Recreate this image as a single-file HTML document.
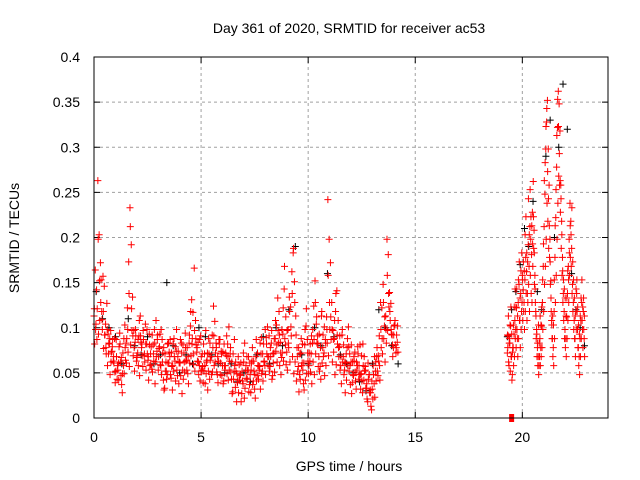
<!DOCTYPE html>
<html><head><meta charset="utf-8"><style>
html,body{margin:0;padding:0;background:#fff;}
svg{display:block;font-family:"Liberation Sans",sans-serif;}
</style></head><body>
<svg id="chart" width="640" height="480" viewBox="0 0 640 480">
<text x="349" y="33" font-size="14" text-anchor="middle">Day 361 of 2020, SRMTID for receiver ac53</text>
<text x="349" y="471" font-size="14" text-anchor="middle">GPS time / hours</text>
<text transform="translate(19,238) rotate(-90)" font-size="14" text-anchor="middle">SRMTID / TECUs</text>
<g id="grid"></g>
<g id="ticks"></g>
<g id="black"></g>
<g id="red"></g>
<rect x="94" y="57" width="514" height="361" fill="none" stroke="#000" stroke-width="1"/>
</svg>
<script>
const xTicks=[0,5,10,15,20];
const yTicks=[0,0.05,0.1,0.15,0.2,0.25,0.3,0.35,0.4];
const yTickLabels=["0","0.05","0.1","0.15","0.2","0.25","0.3","0.35","0.4"];
const segAStart=0, segAStep=0.06;
const redA1=[.113,.164,.142,.263,.203,.172,.118,.157,.146,.104,.127,.093,.082,.097,.074,.063,.088,.052,.043,.061,.094,.047,.028,.058,.103,.083,.122,.173,.233,.192,.134,.097,.084,.063,.072,.091,.113,.078,.057,.069,.104,.082,.064,.093,.071,.054,.081,.098,.062,.074,.053,.079,.058,.087,.042,.033,.062,.048,.083,.068,.044,.031,.052,.063,.074,.047,.038,.061,.083,.053,.072,.094,.064,.049,.083,.102,.131,.117,.166,.108,.073,.084,.058,.091,.053,.039,.071,.097,.064,.052,.043,.068,.092,.124,.107,.083,.048,.063,.087,.074,.058,.041,.053,.069,.082,.101,.071,.043,.029,.051,.034,.018,.042,.059,.048,.027,.038,.022,.052,.068,.053,.037,.028,.063,.041,.032,.068,.047,.043,.057,.071,.052,.082,.058,.089,.101,.068,.057,.083,.047,.072,.088,.103,.133,.118,.084,.067,.093,.143,.081,.073,.098,.134,.123,.162,.183,.151,.113,.078,.057,.048,.072,.061,.038,.081,.102,.087,.049,.063,.071,.083,.124,.152,.104,.091,.068,.057,.113,.078,.072,.087,.112,.242,.198,.172,.128,.097,.088,.118,.141,.108,.079,.058,.092,.068,.053,.061,.078,.101,.071,.062,.039,.047,.073,.032,.058,.043,.081,.049,.028,.042,.057,.033,.018,.048,.031,.009,.021,.038,.052,.068,.047,.091,.128,.122,.148,.102,.113,.198,.181,.139,.127,.092,.078,.103,.072,.084];
const redA2=[.082,.104,.121,.093,.108,.153,.098,.077,.092,.071,.058,.083,.048,.073,.087,.061,.039,.068,.053,.079,.062,.037,.072,.049,.064,.088,.073,.057,.081,.097,.069,.052,.091,.067,.058,.047,.084,.069,.087,.062,.053,.071,.042,.058,.079,.051,.063,.038,.068,.092,.077,.059,.048,.072,.031,.052,.043,.061,.073,.048,.057,.082,.068,.041,.053,.074,.062,.047,.027,.043,.051,.063,.078,.038,.061,.069,.088,.059,.052,.081,.063,.048,.041,.068,.057,.052,.038,.062,.031,.071,.064,.048,.078,.058,.072,.051,.039,.082,.061,.047,.038,.058,.072,.049,.042,.063,.051,.027,.043,.058,.052,.039,.028,.047,.018,.041,.062,.033,.044,.053,.029,.048,.061,.037,.052,.022,.041,.058,.053,.032,.049,.041,.063,.048,.071,.058,.052,.068,.043,.061,.051,.074,.062,.083,.058,.048,.072,.063,.088,.059,.053,.078,.062,.091,.068,.049,.062,.041,.052,.029,.043,.058,.053,.031,.042,.049,.063,.072,.051,.038,.062,.048,.071,.083,.057,.052,.043,.061,.068,.047,.058,.083,.069,.098,.087,.062,.073,.048,.059,.082,.068,.053,.038,.062,.048,.028,.042,.058,.052,.037,.027,.048,.063,.041,.053,.071,.048,.032,.041,.058,.052,.033,.021,.043,.028,.013,.032,.048,.023,.041,.052,.063,.042,.078,.071,.088,.062,.083,.097,.123,.108,.093,.068,.102,.081,.092,.073];
const redA3=[.121,.098,.087,.198,.152,.128,.109,.118,.092,.078,.098,.071,.088,.062,.079,.068,.051,.087,.058,.042,.082,.067,.049,.088,.078,.061,.098,.138,.212,.121,.091,.078,.098,.069,.087,.108,.091,.082,.097,.071,.082,.098,.068,.081,.059,.092,.071,.083,.108,.087,.068,.093,.098,.062,.078,.071,.052,.082,.061,.087,.072,.058,.088,.079,.098,.068,.061,.087,.072,.081,.062,.078,.053,.068,.092,.118,.082,.071,.097,.088,.078,.062,.087,.052,.071,.082,.058,.049,.072,.088,.083,.068,.051,.091,.062,.078,.068,.087,.048,.071,.073,.082,.058,.091,.068,.053,.078,.062,.071,.087,.062,.049,.068,.042,.061,.052,.072,.083,.058,.043,.068,.061,.053,.078,.063,.048,.087,.072,.058,.083,.089,.071,.062,.098,.082,.068,.091,.078,.097,.071,.088,.108,.081,.097,.092,.072,.098,.122,.168,.112,.097,.083,.118,.101,.138,.188,.128,.092,.068,.078,.071,.088,.082,.061,.098,.121,.072,.058,.082,.091,.098,.087,.128,.112,.082,.093,.078,.118,.092,.101,.083,.098,.158,.128,.112,.098,.087,.108,.138,.092,.078,.091,.068,.098,.081,.062,.071,.088,.079,.058,.081,.062,.068,.051,.062,.079,.058,.048,.069,.082,.068,.053,.038,.061,.048,.028,.041,.058,.068,.062,.078,.069,.058,.098,.088,.128,.112,.098,.158,.138,.118,.098,.081,.092,.108,.078,.102];
const segBStart=19.3, segBStep=0.039;
const redB1=[.072,.091,.058,.083,.102,.068,.048,.078,.093,.108,.098,.122,.088,.128,.148,.108,.138,.118,.158,.142,.128,.153,.178,.162,.138,.192,.168,.212,.198,.181,.228,.262,.208,.158,.118,.098,.078,.068,.058,.088,.078,.102,.128,.168,.212,.248,.298,.328,.352,.298,.258,.198,.152,.108,.088,.078,.118,.178,.222,.278,.322,.362,.348,.318,.258,.218,.178,.138,.118,.098,.088,.112,.138,.168,.198,.238,.218,.188,.148,.128,.108,.088,.118,.138,.098,.078,.068,.088,.108,.128,.098,.118,.088];
const redB2=[.078,.062,.088,.052,.068,.042,.078,.058,.068,.088,.078,.098,.068,.088,.108,.078,.098,.128,.108,.118,.098,.118,.138,.108,.128,.148,.118,.158,.138,.128,.168,.188,.148,.128,.088,.068,.058,.048,.068,.058,.068,.078,.098,.118,.148,.168,.198,.238,.218,.188,.178,.148,.118,.088,.068,.058,.088,.128,.158,.198,.238,.268,.258,.228,.188,.158,.128,.108,.088,.078,.068,.088,.108,.128,.158,.178,.168,.138,.118,.098,.088,.068,.098,.118,.078,.058,.048,.068,.088,.108,.078,.098,.068];
const redB3=[.092,.113,.083,.103,.123,.093,.073,.103,.123,.143,.123,.143,.113,.153,.173,.133,.163,.183,.153,.173,.163,.203,.223,.183,.173,.243,.203,.253,.223,.213,.193,.223,.183,.143,.113,.093,.083,.103,.083,.113,.103,.123,.153,.193,.263,.283,.323,.343,.273,.243,.213,.173,.133,.103,.113,.103,.153,.213,.253,.313,.353,.323,.293,.263,.243,.203,.163,.153,.143,.133,.113,.133,.163,.153,.183,.213,.203,.233,.173,.153,.133,.113,.143,.153,.123,.103,.093,.113,.133,.153,.123,.133,.113];
const blackAStart=0.1, blackAStep=0.3;
const blackA=[.14,.11,.10,.09,.06,.11,.08,.07,.09,.06,.07,.15,.08,.05,.07,.06,.10,.09,.07,.06,.05,.06,.04,.05,.04,.07,.09,.06,.10,.08,.12,.19,.07,.06,.10,.08,.16,.09,.07,.06,.05,.04,.03,.06,.12,.10,.08,.06];
const blackBStart=19.3, blackBStep=0.2;
const blackB=[.09,.12,.14,.17,.21,.19,.24,.14,.12,.29,.33,.20,.30,.37,.32,.16,.12,.10,.08];
const markerHours=[19.5];
const markerValues=[0];

const X0=94,X1=608,Y0=418,Y1=57,XMAX=24,YMAX=0.4;
const xs=h=>X0+(X1-X0)*h/XMAX;
const ys=v=>Y0-(Y0-Y1)*v/YMAX;
const NS="http://www.w3.org/2000/svg";
function mk(tag,attrs,parent){const e=document.createElementNS(NS,tag);for(const k in attrs)e.setAttribute(k,attrs[k]);parent.appendChild(e);return e;}
const grid=document.getElementById('grid'),ticks=document.getElementById('ticks');
xTicks.forEach(t=>{
  const x=xs(t);
  if(t>0){const g=mk('line',{x1:x,x2:x,y1:Y0,y2:Y1,stroke:'#a0a0a0','stroke-dasharray':'3,3'},grid);
  
  }
  mk('line',{x1:x,x2:x,y1:Y0,y2:Y0-6,stroke:'#000'},ticks);
  mk('line',{x1:x,x2:x,y1:Y1,y2:Y1+6,stroke:'#000'},ticks);
  const l=mk('text',{x:x,y:Y0+24,'font-size':14,'text-anchor':'middle'},ticks);
  l.textContent=String(t);
  
  
});
yTicks.forEach((t,i)=>{
  const y=ys(t);
  if(t>0&&t<YMAX){const g=mk('line',{x1:X0,x2:X1,y1:y,y2:y,stroke:'#a0a0a0','stroke-dasharray':'3,3'},grid);
  
  }
  mk('line',{x1:X0,x2:X0+6,y1:y,y2:y,stroke:'#000'},ticks);
  mk('line',{x1:X1,x2:X1-6,y1:y,y2:y,stroke:'#000'},ticks);
  const l=mk('text',{x:X0-14,y:y+5,'font-size':14,'text-anchor':'end'},ticks);
  l.textContent=yTickLabels[i];
  
  
});
function plus(g,h,v,color){
  const x=xs(h),y=ys(v);
  const p=mk('path',{d:`M${x-3.5},${y}h7M${x},${y-3.5}v7`,stroke:color,'stroke-width':1,fill:'none'},g);
  
  
}
function series(g,start,step,vals,color,off){vals.forEach((v,i)=>plus(g,start+off+i*step,v,color));}
const bg=document.getElementById('black'),rg=document.getElementById('red');
series(bg,blackAStart,blackAStep,blackA,'#000',0);
series(bg,blackBStart,blackBStep,blackB,'#000',0);
series(rg,segAStart,segAStep,redA1,'#f00',0);
series(rg,segAStart,segAStep,redA2,'#f00',0.03);
series(rg,segAStart,segAStep,redA3,'#f00',0.015);
series(rg,segBStart,segBStep,redB1,'#f00',0);
series(rg,segBStart,segBStep,redB2,'#f00',0.02);
series(rg,segBStart,segBStep,redB3,'#f00',0.01);
markerHours.forEach((h,i)=>{
  const r=mk('rect',{x:xs(h)-2.5,y:ys(markerValues[i])-4,width:5,height:8,fill:'#f00'},rg);
  
  
});
</script>
</body></html>
